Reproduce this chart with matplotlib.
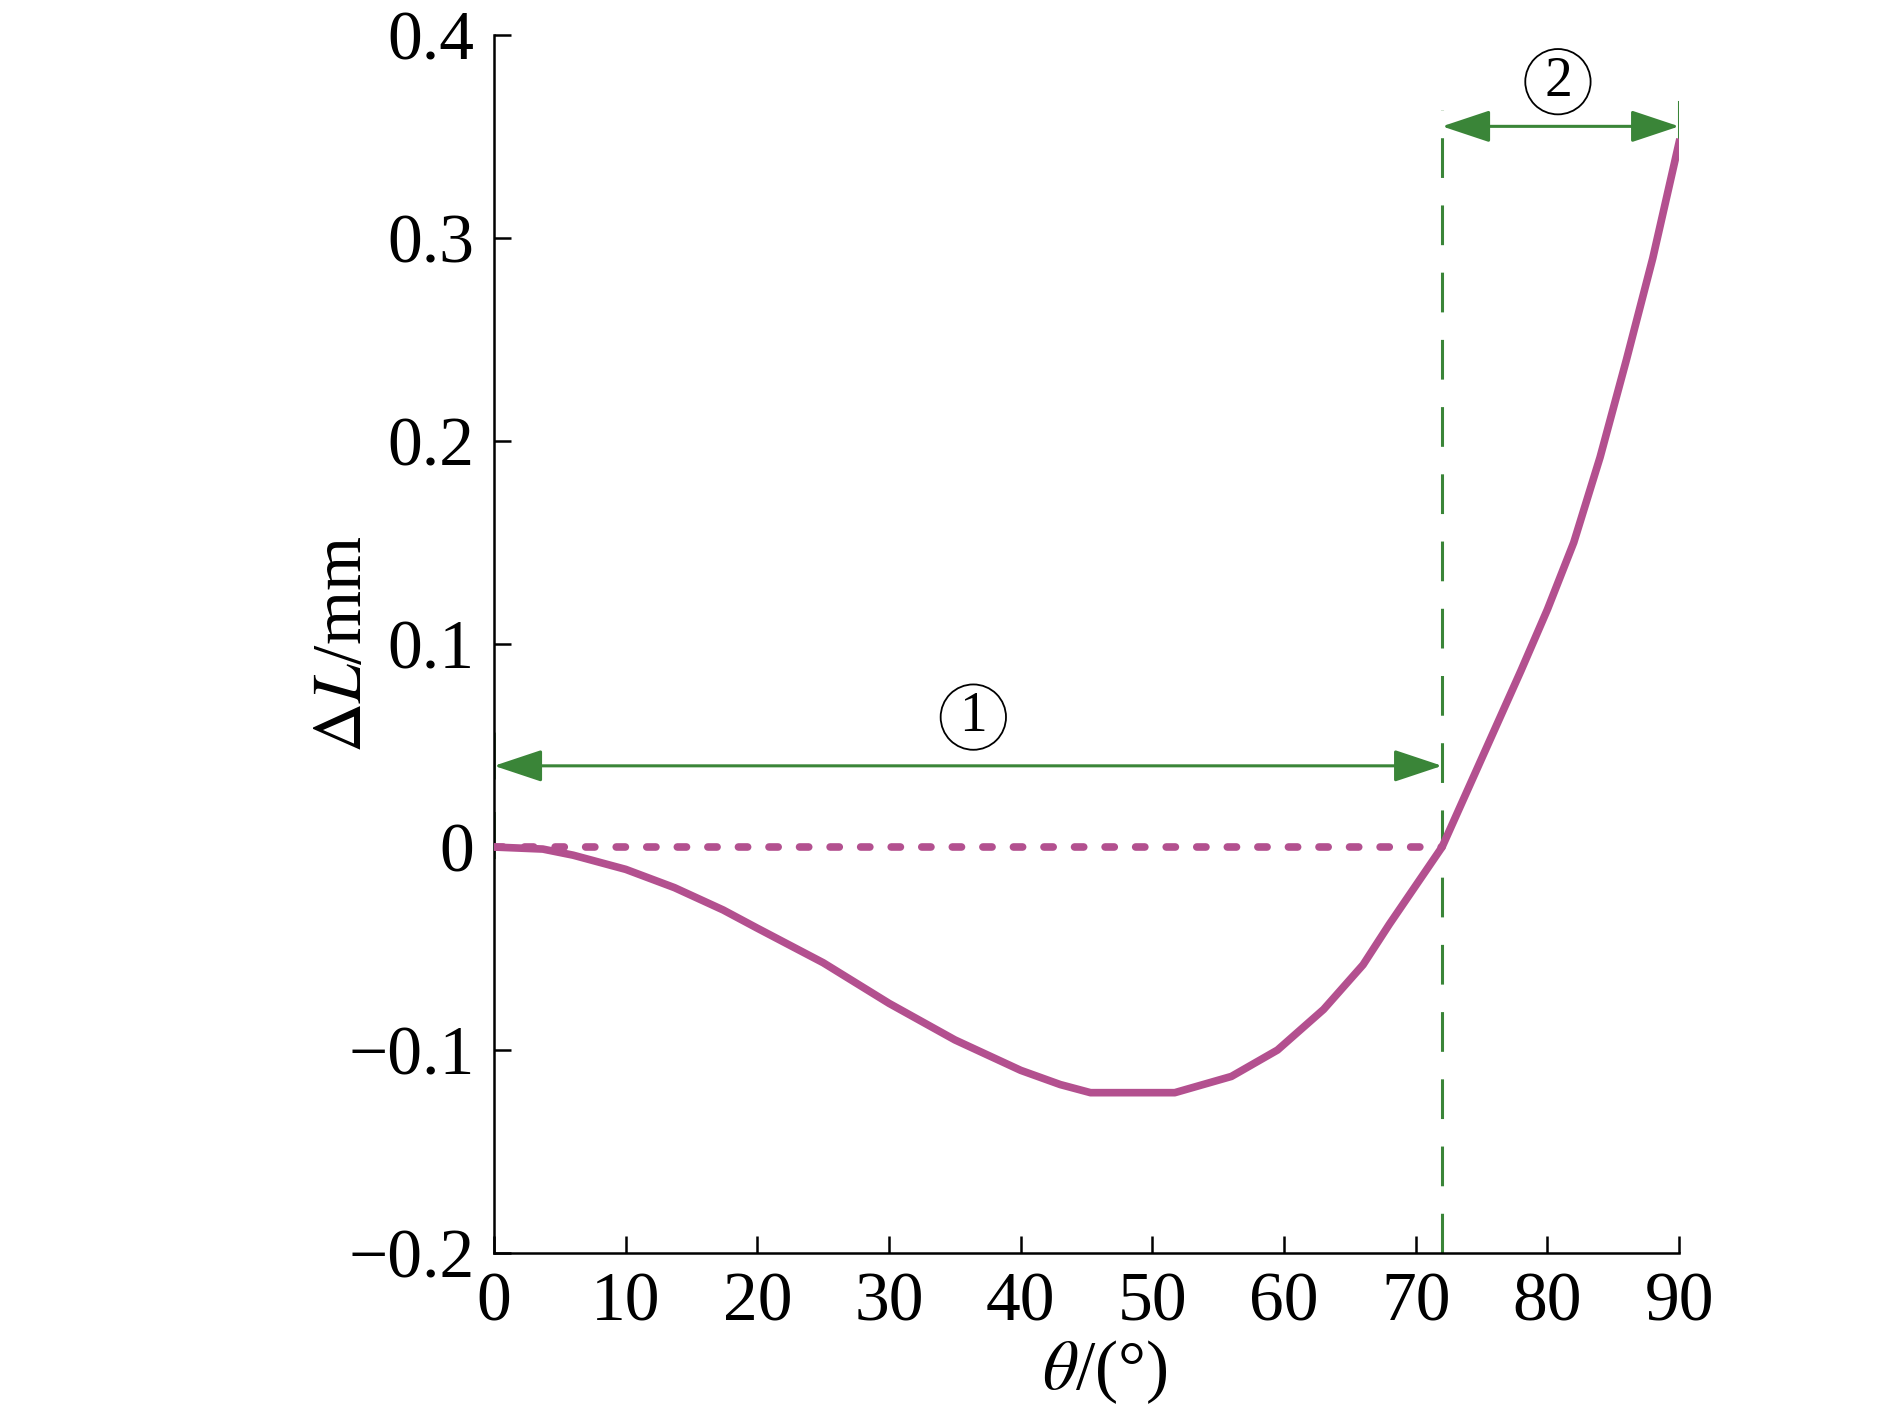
import matplotlib
matplotlib.use('Agg')
import matplotlib.pyplot as plt
from matplotlib.patches import FancyArrowPatch

plt.rcParams['font.family'] = ['Liberation Serif', 'DejaVu Serif']
plt.rcParams['mathtext.fontset'] = 'stix'

# data
theta = [0, 3.7, 6, 10, 13.7, 17.4, 20, 25, 30, 35, 40, 43, 45.3, 48.5, 51.7,
         56, 59.5, 63, 66, 68, 70, 72, 74, 76, 78, 80, 82, 84, 86, 88, 90]
dL = [0, -0.001, -0.004, -0.011, -0.020, -0.031, -0.040, -0.057, -0.077, -0.095,
      -0.110, -0.117, -0.121, -0.121, -0.121, -0.113, -0.100, -0.080, -0.058,
      -0.038, -0.019, 0, 0.029, 0.058, 0.087, 0.117, 0.150, 0.192, 0.240,
      0.290, 0.347]
theta_zero = 72
arrow1_y = 0.04
arrow2_y = 0.355
xticks = [0, 10, 20, 30, 40, 50, 60, 70, 80, 90]
yticks = [-0.2, -0.1, 0, 0.1, 0.2, 0.3, 0.4]
ytick_labels = ['\u22120.2', '\u22120.1', '0', '0.1', '0.2', '0.3', '0.4']

magenta = '#B3508F'
green = '#3A8538'

fig = plt.figure(figsize=(18.9, 14.17), dpi=100)
ax = fig.add_axes([0.2614, 0.1157, 0.627, 0.8596])

ax.plot(theta, dL, color=magenta, lw=5.5, zorder=3, solid_joinstyle='round')
ax.plot([0, theta_zero], [0, 0], color=magenta, lw=5.5, dashes=(1.2, 2.8),
        dash_capstyle='round', zorder=3)

# vertical dashed guide at 72 deg
ax.plot([theta_zero, theta_zero], [-0.2, 0.363], color=green, lw=2.2,
        dashes=(13, 9), zorder=2)
ax.plot([0, 0], [-0.006, 0.058], color=green, lw=2.6, dashes=(13, 9), zorder=1)
ax.plot([90, 90], [0.346, 0.367], color=green, lw=2.2, zorder=2)

for x0, x1, y in [(0, theta_zero, arrow1_y), (theta_zero, 90, arrow2_y)]:
    arr = FancyArrowPatch((x0, y), (x1, y),
                          arrowstyle='<|-|>,head_length=30,head_width=10',
                          mutation_scale=1, color=green, lw=2.2,
                          shrinkA=0, shrinkB=0, clip_on=False, zorder=4)
    ax.add_patch(arr)

circ = dict(boxstyle='circle,pad=0.12', fc='none', ec='black', lw=1.3)
ax.text(36.4, 0.064, '1', fontsize=40, ha='center', va='center', bbox=circ)
ax.text(80.8, 0.377, '2', fontsize=40, ha='center', va='center', bbox=circ)

ax.set_xlim(0, 90)
ax.set_ylim(-0.2, 0.4)
ax.set_xticks(xticks)
ax.set_yticks(yticks)
ax.set_yticklabels(ytick_labels)
ax.tick_params(direction='in', length=12, width=1.8, labelsize=50, pad=14)
for s in ['top', 'right']:
    ax.spines[s].set_visible(False)
for s in ['left', 'bottom']:
    ax.spines[s].set_linewidth(1.8)

ax.set_xlabel('$\\theta$/(\u00b0)', fontsize=50)
ax.xaxis.set_label_coords(0.515, -0.07)
ax.set_ylabel('$\\Delta L$/mm', fontsize=50, labelpad=-20)

fig.savefig('out.png', dpi=100)
